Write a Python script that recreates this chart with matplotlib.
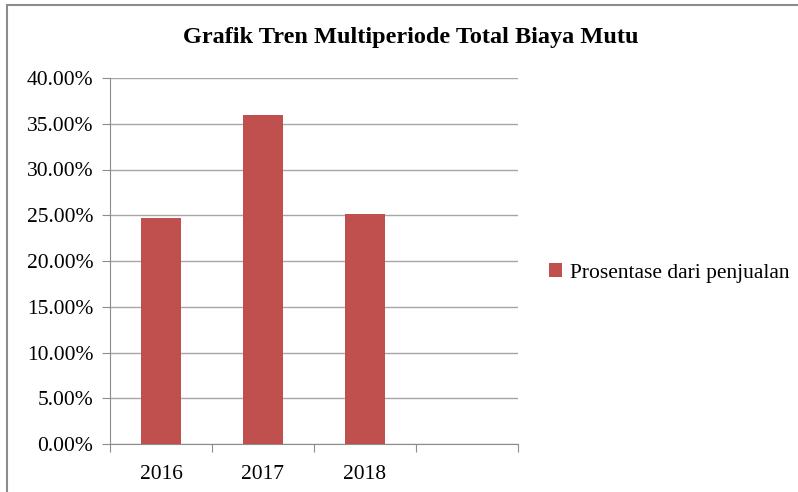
import matplotlib.pyplot as plt
from matplotlib.patches import Rectangle

# --- Data ---
years = ["2016", "2017", "2018"]
prosentase = [24.7, 36.0, 25.1]  # % of sales
yticks = [0, 5, 10, 15, 20, 25, 30, 35, 40]

plt.rcParams['font.family'] = ['Liberation Serif', 'DejaVu Serif']

fig = plt.figure(figsize=(7.98, 4.92), dpi=100)
ax = fig.add_axes([110 / 798, 48 / 492, 408 / 798, 366 / 492])

# frame of the chart area (screenshot border)
fig.patches.append(Rectangle((7 / 798, -0.1), 1.2, (492 - 5) / 492 + 0.1,
                             transform=fig.transFigure, fill=False,
                             edgecolor='#8c8c8c', linewidth=1.5))

x = list(range(len(years)))
ax.bar(x, prosentase, width=0.39, color='#C0504D', zorder=3,
       label='Prosentase dari penjualan')

ax.set_xlim(-0.5, 3.5)
ax.set_ylim(0, 40)
ax.set_yticks(yticks)
ax.set_yticklabels([f"{v:.2f}%" for v in yticks], fontsize=15.5)
ax.yaxis.grid(True, color='#a6a6a6', linewidth=1.0, zorder=0)

# category ticks at boundaries, labels in the middle
ax.set_xticks([-0.5, 0.5, 1.5, 2.5, 3.5])
ax.set_xticklabels([])
ax.set_xticks(x, minor=True)
ax.set_xticklabels(years, minor=True, fontsize=15.5)
ax.tick_params(axis='x', which='minor', length=0, pad=15)
ax.tick_params(axis='x', which='major', length=6, color='#8c8c8c', direction='out')
ax.tick_params(axis='y', length=6, color='#8c8c8c', direction='out', pad=6)

for s in ['top', 'right']:
    ax.spines[s].set_visible(False)
for s in ['left', 'bottom']:
    ax.spines[s].set_color('#8c8c8c')

fig.text(411 / 798, 1 - 38 / 492, "Grafik Tren Multiperiode Total Biaya Mutu",
         ha='center', va='center', fontsize=17.5, fontweight='bold')

ax.legend(loc='center left', bbox_to_anchor=(540 / 408 - 110 / 408, 0.467),
          frameon=False, fontsize=15.5, handlelength=0.6, handleheight=0.6,
          handletextpad=0.4, borderaxespad=0)

fig.savefig('out.png', dpi=100)
